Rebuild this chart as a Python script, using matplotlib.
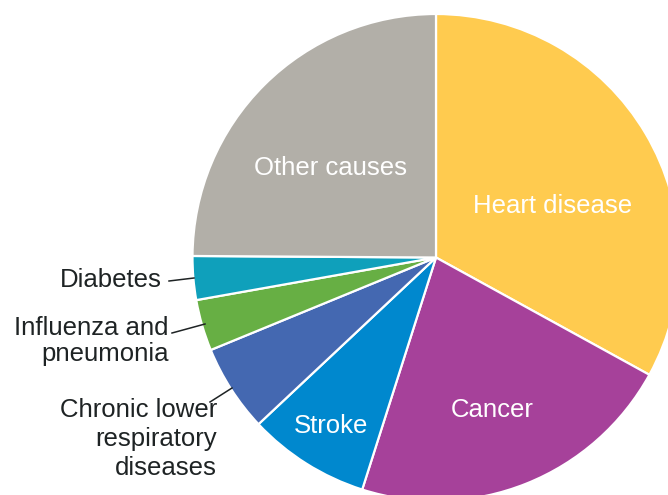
import matplotlib
matplotlib.use("Agg")
import matplotlib.pyplot as plt

categories = ["Heart disease", "Cancer", "Stroke", "Chronic lower\nrespiratory\ndiseases",
              "Influenza and\npneumonia", "Diabetes", "Other causes"]
values = [33.0, 21.9, 8.1, 5.8, 3.4, 2.9, 24.9]
colors = ["#FFCB4F", "#A6419A", "#0088CE", "#4468B1", "#67AF44", "#0FA0BB", "#B2AFA8"]

W, H = 668, 495
fig = plt.figure(figsize=(W / 100, H / 100), dpi=100)
ax = fig.add_axes([0, 0, 1, 1])

cx, cy, r = 436, H - 257.5, 243.5
ax.pie(values, colors=colors, startangle=90, counterclock=False,
       center=(cx, cy), radius=r,
       wedgeprops=dict(edgecolor="white", linewidth=1.6))
ax.set_xlim(0, W)
ax.set_ylim(0, H)
ax.set_aspect("equal")
ax.axis("off")

font = "Liberation Sans"
fs = 18.5

# inside labels (white)
inside = {0: (553, 206), 1: (492, 410), 2: (331, 426), 6: (331, 168)}
for i, (x, y) in inside.items():
    ax.text(x, H - y, categories[i], color="white", fontsize=fs, family=font,
            ha="center", va="center")

# outside labels with leader lines
tc = "#1e2324"
outside = {
    5: ((162, 280), (169, 281), (194, 278), 1.1),
    4: ((169, 341), (172, 333), (205, 324), 1.12),
    3: ((217, 439), (210, 402), (232, 388), 1.24),
}
for i, ((tx, ty), (x0, y0), (x1, y1), ls) in outside.items():
    ax.text(tx, H - ty, categories[i], color=tc, fontsize=fs, family=font,
            ha="right", va="center", multialignment="right", linespacing=ls)
    ax.plot([x0, x1], [H - y0, H - y1], color=tc, lw=1.1)

fig.savefig("out.png", dpi=100)
